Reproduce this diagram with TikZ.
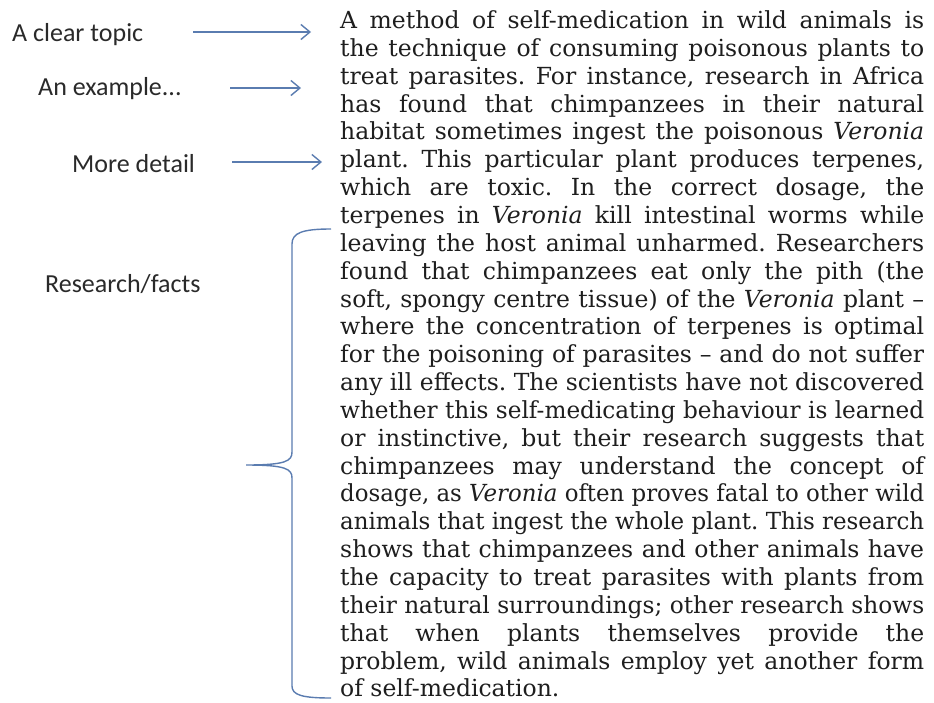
\documentclass[tikz,border=0pt]{standalone}
\usepackage{fontspec}
\usepackage{graphicx}
\setmainfont{DejaVu Serif}
\newfontfamily\labelfont{Carlito}
\usetikzlibrary{arrows.meta}
\definecolor{txt}{HTML}{1E1E1E}
\definecolor{lbltxt}{HTML}{2A2A2A}
\definecolor{linkblue}{HTML}{5A7CB0}
\newlength\parW \setlength\parW{584pt}
\newsavebox\jlinebox
\newcommand\jline[1]{\sbox\jlinebox{#1}\ifdim\wd\jlinebox>\parW\resizebox{\parW}{\ht\jlinebox}{\usebox\jlinebox}\else\makebox[\parW][s]{#1}\fi\par}
\tikzset{
  lbl/.style={anchor=base west, inner sep=0pt, text=lbltxt, font=\labelfont\fontsize{26}{30}\selectfont},
  arr/.style={draw=linkblue, line width=1.4pt, -{Straight Barb[length=9pt,width=15pt,line width=1.4pt]}},
  bracestyle/.style={draw=linkblue, line width=1.4pt},
  body/.style={anchor=base west, inner sep=0pt, text=txt, font=\fontsize{23.5}{27.85}\selectfont}
}
\begin{document}
\frenchspacing
\begin{tikzpicture}[x=1pt,y=-1pt]
\fill[white] (0,0) rectangle (934,702);
\useasboundingbox (0,0) rectangle (934,702);

\node[body] (para) at (340,28.5) {\begin{minipage}[t]{\parW}\frenchspacing\setlength\parindent{0pt}\setlength\parskip{0pt}\setlength\baselineskip{27.85pt}%
\jline{A method of self-medication in wild animals is}
\jline{the technique of consuming poisonous plants to}
\jline{treat parasites. For instance, research in Africa}
\jline{has found that chimpanzees in their natural}
\jline{habitat sometimes ingest the poisonous \textit{Veronia}}
\jline{plant. This particular plant produces terpenes,}
\jline{which are toxic. In the correct dosage, the}
\jline{terpenes in \textit{Veronia} kill intestinal worms while}
\jline{leaving the host animal unharmed. Researchers}
\jline{found that chimpanzees eat only the pith (the}
\jline{soft, spongy centre tissue) of the \textit{Veronia} plant –}
\jline{where the concentration of terpenes is optimal}
\jline{for the poisoning of parasites – and do not suffer}
\jline{any ill effects. The scientists have not discovered}
\jline{whether this self-medicating behaviour is learned}
\jline{or instinctive, but their research suggests that}
\jline{chimpanzees may understand the concept of}
\jline{dosage, as \textit{Veronia} often proves fatal to other wild}
\jline{animals that ingest the whole plant. This research}
\jline{shows that chimpanzees and other animals have}
\jline{the capacity to treat parasites with plants from}
\jline{their natural surroundings; other research shows}
\jline{that when plants themselves provide the}
\jline{problem, wild animals employ yet another form}
of self-medication.\par
\end{minipage}};

\node[lbl] (topic) at (12,41) {A clear topic};
\node[lbl] (example) at (38,95) {An example...};
\node[lbl] (detail) at (72,172) {More detail};
\node[lbl] (facts) at (45,292) {Research/facts};

\coordinate (a1s) at (193,32);
\coordinate (a1e) at (311,32);
\coordinate (a2s) at (230,88);
\coordinate (a2e) at (301,88);
\coordinate (a3s) at (232,162);
\coordinate (a3e) at (322,162);
\draw[arr] (a1s) -- (a1e);
\draw[arr] (a2s) -- (a2e);
\draw[arr] (a3s) -- (a3e);

\coordinate (bt) at (331,229);
\coordinate (bm) at (246,465);
\coordinate (bb) at (331,698);
\draw[bracestyle] (bt) .. controls (302,229) and (292,233) .. (292,244)
  -- (292,452) .. controls (292,461) and (286,465) .. (bm)
  .. controls (286,465) and (292,469) .. (292,478)
  -- (292,686) .. controls (292,695) and (302,698) .. (bb);
\end{tikzpicture}
\end{document}
